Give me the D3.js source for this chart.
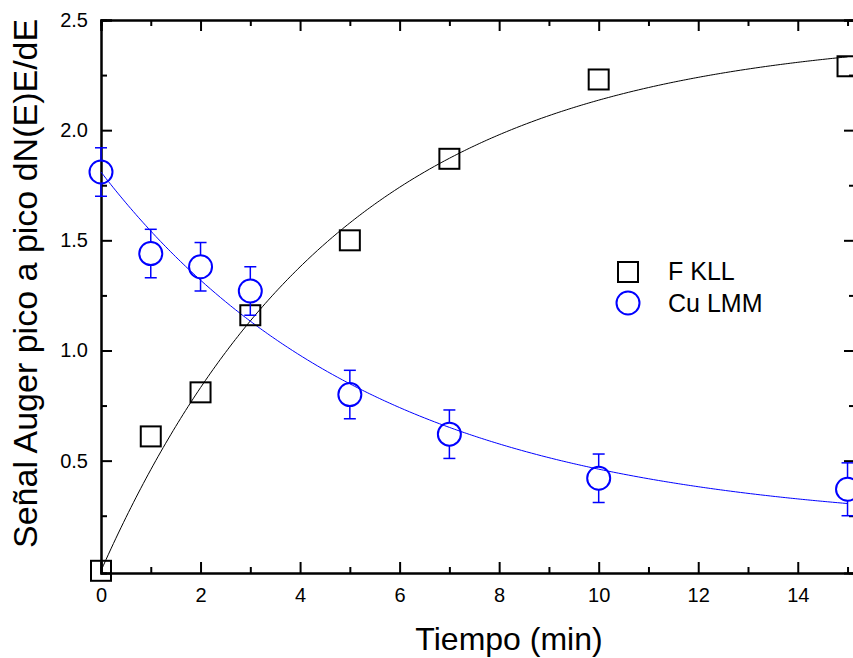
<!DOCTYPE html>
<html><head><meta charset="utf-8">
<script src="https://cdn.jsdelivr.net/npm/d3@7"></script>
<style>body{margin:0;background:#fff}svg{display:block}text{font-family:"Liberation Sans",Arial,sans-serif}</style>
</head><body>
<svg id="c" width="853" height="658"></svg>
<script>
// ---- data ----
const tiempo = [0, 1, 2, 3, 5, 7, 10, 15];
const fKLL = [0.00, 0.61, 0.81, 1.16, 1.50, 1.87, 2.23, 2.29];
const cuLMM = [1.81, 1.44, 1.38, 1.27, 0.80, 0.62, 0.42, 0.37];
const cuErr = [0.11, 0.11, 0.11, 0.11, 0.11, 0.11, 0.11, 0.12];
const xTickLabels = [0, 2, 4, 6, 8, 10, 12, 14];
const yTickLabels = [0.5, 1.0, 1.5, 2.0, 2.5];
const seriesNames = ["F KLL", "Cu LMM"];
// fitted model parameters (first-order growth / decay)
const fitF = {A: 2.44, t: 4.8};
const fitCu = {y0: 0.20, B: 1.61, t: 5.5};

const svg = d3.select("#c");
const x = d3.scaleLinear().domain([0, 15.15]).range([101, 855]);
const y = d3.scaleLinear().domain([-0.01, 2.5]).range([573, 20]);
const BLUE = "#0000ff";

// frame axes (inward ticks)
const major = 11, minor = 6;
function axisG(axis, tr){ return svg.append("g").attr("transform", tr).call(axis); }
const xMinor = d3.range(1, 16, 2), yMinor = d3.range(0.25, 2.5, 0.5);

const bottom = axisG(d3.axisBottom(x).tickValues(xTickLabels).tickSize(-major).tickPadding(15).tickFormat(d3.format("d")), `translate(0,${y.range()[0]})`);
axisG(d3.axisBottom(x).tickValues(xMinor).tickSize(-minor).tickFormat(""), `translate(0,${y.range()[0]})`);
axisG(d3.axisTop(x).tickValues(xTickLabels).tickSize(-major).tickFormat(""), `translate(0,${y.range()[1]})`);
axisG(d3.axisTop(x).tickValues(xMinor).tickSize(-minor).tickFormat(""), `translate(0,${y.range()[1]})`);
const left = axisG(d3.axisLeft(y).tickValues(yTickLabels).tickSize(-major).tickPadding(13).tickFormat(d3.format(".1f")), `translate(${x.range()[0]},0)`);
axisG(d3.axisLeft(y).tickValues(yMinor).tickSize(-minor).tickFormat(""), `translate(${x.range()[0]},0)`);
axisG(d3.axisRight(y).tickValues(yTickLabels).tickSize(-major).tickFormat(""), `translate(${x.range()[1]},0)`);
axisG(d3.axisRight(y).tickValues(yMinor).tickSize(-minor).tickFormat(""), `translate(${x.range()[1]},0)`);

svg.selectAll(".domain").attr("stroke", "#000").attr("stroke-width", 2);
svg.selectAll(".tick line").attr("stroke", "#000").attr("stroke-width", 2);
svg.selectAll(".tick text").attr("fill", "#000").attr("font-size", 20).attr("font-family", '"Liberation Sans",Arial,sans-serif');
bottom.selectAll(".tick text").attr("dy", "0.71em");

// fit curves
const xs = d3.range(0, 15.001, 0.05);
const line = d3.line().x(d => x(d[0])).y(d => y(d[1]));
svg.append("path").datum(xs.map(v => [v, fitF.A * (1 - Math.exp(-v / fitF.t))]))
  .attr("d", line).attr("fill", "none").attr("stroke", "#000").attr("stroke-width", 1);
svg.append("path").datum(xs.map(v => [v, fitCu.y0 + fitCu.B * Math.exp(-v / fitCu.t)]))
  .attr("d", line).attr("fill", "none").attr("stroke", BLUE).attr("stroke-width", 1);

// F KLL squares
const S = 20;
svg.selectAll(".sq").data(tiempo).join("rect")
  .attr("x", (d) => x(d) - S/2).attr("y", (d, i) => y(fKLL[i]) - S/2)
  .attr("width", S).attr("height", S)
  .attr("fill", "none").attr("stroke", "#000").attr("stroke-width", 2);

// Cu LMM circles + error bars
const R = 11.5, cap = 6;
const eb = svg.append("g").attr("stroke", BLUE).attr("stroke-width", 1.5).attr("fill", "none");
tiempo.forEach((t, i) => {
  const cx = x(t), cy = y(cuLMM[i]);
  const top = y(cuLMM[i] + cuErr[i]), bot = y(cuLMM[i] - cuErr[i]);
  eb.append("line").attr("x1", cx).attr("x2", cx).attr("y1", top).attr("y2", cy - R);
  eb.append("line").attr("x1", cx).attr("x2", cx).attr("y1", cy + R).attr("y2", bot);
  eb.append("line").attr("x1", cx - cap).attr("x2", cx + cap).attr("y1", top).attr("y2", top);
  eb.append("line").attr("x1", cx - cap).attr("x2", cx + cap).attr("y1", bot).attr("y2", bot);
});
svg.selectAll(".ci").data(tiempo).join("circle")
  .attr("cx", d => x(d)).attr("cy", (d, i) => y(cuLMM[i])).attr("r", R)
  .attr("fill", "none").attr("stroke", BLUE).attr("stroke-width", 2);

// legend
const lg = svg.append("g");
lg.append("rect").attr("x", 628 - S/2).attr("y", 272 - S/2).attr("width", S).attr("height", S)
  .attr("fill", "none").attr("stroke", "#000").attr("stroke-width", 2);
lg.append("circle").attr("cx", 628).attr("cy", 303).attr("r", R)
  .attr("fill", "none").attr("stroke", BLUE).attr("stroke-width", 2);
lg.append("text").attr("x", 668).attr("y", 280).attr("font-size", 25).text(seriesNames[0]);
lg.append("text").attr("x", 668).attr("y", 312).attr("font-size", 25).text(seriesNames[1]);

// axis titles
svg.append("text").attr("x", 509).attr("y", 650).attr("text-anchor", "middle").attr("font-size", 32).text("Tiempo (min)");
svg.append("text").attr("transform", "translate(37,548) rotate(-90)").attr("text-anchor", "start").attr("font-size", 34)
  .text("Señal Auger pico a pico dN(E)E/dE");
</script>
</body></html>
